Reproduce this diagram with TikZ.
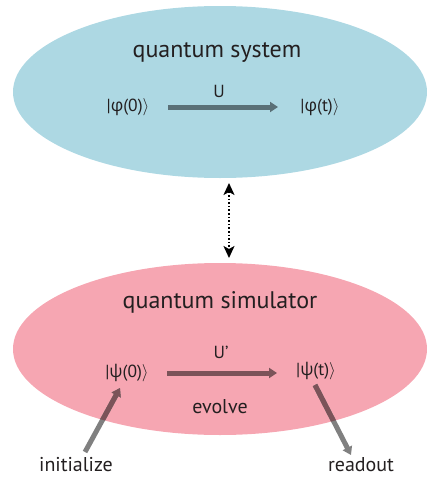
\documentclass[tikz,border=0pt]{standalone}
\usepackage{fontspec}
\setmainfont{PT Sans}
\newfontfamily\grk{Open Sans}
\usetikzlibrary{shapes.geometric,arrows.meta}
\definecolor{sysblue}{RGB}{173,216,227}
\definecolor{simpink}{RGB}{246,166,178}
\definecolor{agray}{RGB}{128,128,128}
\definecolor{aonblue}{RGB}{90,112,119}
\definecolor{aonpink}{RGB}{123,83,89}
\definecolor{txt}{RGB}{35,31,32}
\newcommand{\ketx}[1]{|#1\ensuremath{\rangle}}
\tikzset{
  blob/.style={ellipse,inner sep=0pt,minimum width=414pt,minimum height=172pt},
  title/.style={font=\fontsize{24}{28}\selectfont,text=txt,inner sep=0pt},
  ket/.style={font=\fontsize{17.5}{20}\selectfont,text=txt,inner sep=0pt},
  lab/.style={font=\fontsize{20}{24}\selectfont,text=txt,inner sep=0pt},
  fat/.style={line width=5pt,-{Triangle[length=8pt,width=10pt]}},
  link/.style={line width=1.6pt,dotted,{Stealth[length=12pt,width=11pt,inset=3pt]}-{Stealth[length=12pt,width=11pt,inset=3pt]}}
}
\begin{document}
\begin{tikzpicture}[x=1pt,y=-1pt]
\useasboundingbox (0,0) rectangle (427,477);
% ellipses
\node[blob,fill=sysblue] (sys) at (220,92) {};
\node[blob,fill=simpink] (sim) at (220,349) {};
% top
\node[title] (systitle) at (217,52) {quantum system};
\node[ket] (phi0) at (128,107) {\ketx{{\grk φ}(0)}};
\node[ket] (phit) at (320,107) {\ketx{{\grk φ}(t)}};
\node[ket] (U) at (219,91) {U};
\draw[fat,aonblue] (168,107) -- (278,107);
% link
\coordinate (ltop) at (229,183);
\coordinate (lbot) at (229,258);
\draw[link,black] (ltop) -- (lbot);
% bottom
\node[title] (simtitle) at (220,302) {quantum simulator};
\node[ket] (psi0) at (127,373) {\ketx{{\grk ψ}(0)}};
\node[ket] (psit) at (316,371) {\ketx{{\grk ψ}(t)}};
\node[ket] (Up) at (221,352) {U’};
\node[lab] (evolve) at (220,407) {evolve};
\draw[fat,aonpink] (167,373) -- (277,373);
\node[lab] (init) at (76,465) {initialize};
\node[lab] (read) at (361,465) {readout};
\coordinate (itail) at (85,452);
\coordinate (itip) at (120,388);
\coordinate (rtail) at (315,385);
\coordinate (rtip) at (351,455);
\draw[fat,agray] (itail) -- (itip);
\draw[fat,agray] (rtail) -- (rtip);
\begin{scope}
\clip (220,349) ellipse [x radius=207, y radius=86];
\draw[fat,aonpink] (itail) -- (itip);
\draw[fat,aonpink] (rtail) -- (rtip);
\end{scope}
\end{tikzpicture}
\end{document}
